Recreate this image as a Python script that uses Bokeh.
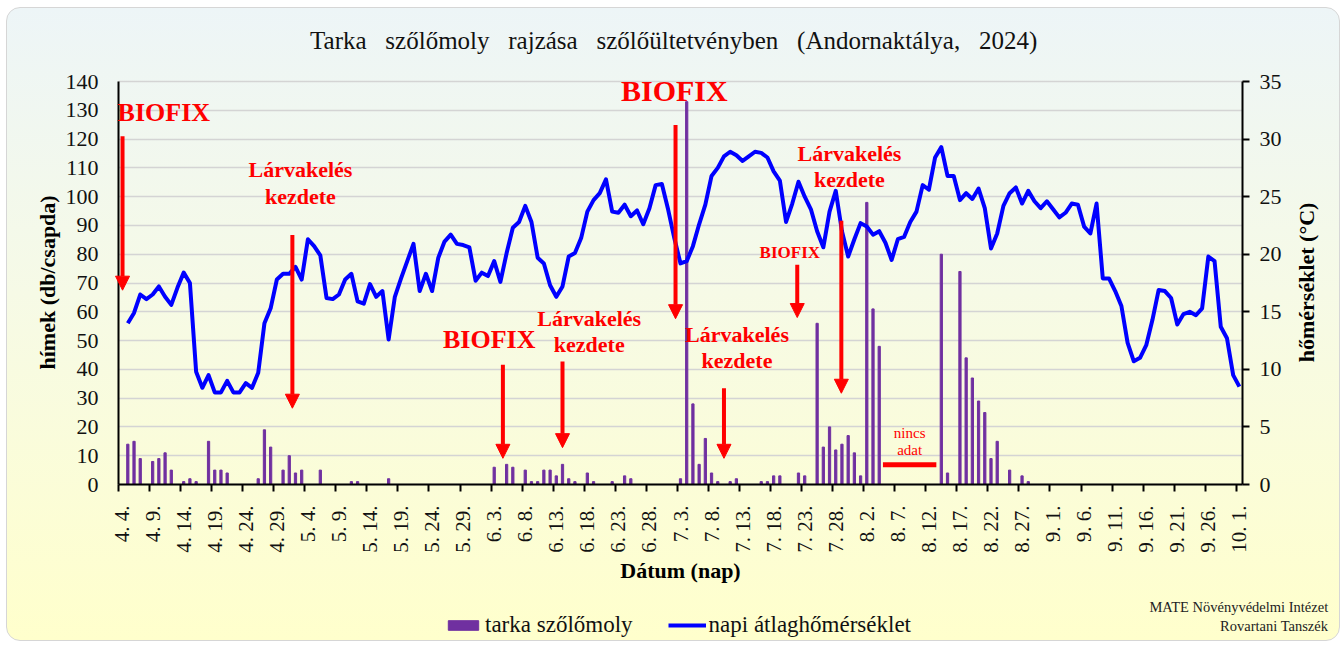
import math
from bokeh.plotting import figure
from bokeh.models import (Range1d, FixedTicker, LinearAxis, Arrow, NormalHead, Label,
                          Legend, LegendItem, BoxAnnotation)
from bokeh.embed import file_html
from bokeh.resources import INLINE

# ---------------- data ----------------
# day index 0 = 4 April 2024 ... 180 = 1 October 2024
x_tick_labels = ["4. 4.", "4. 9.", "4. 14.", "4. 19.", "4. 24.", "4. 29.", "5. 4.", "5. 9.",
                 "5. 14.", "5. 19.", "5. 24.", "5. 29.", "6. 3.", "6. 8.", "6. 13.", "6. 18.",
                 "6. 23.", "6. 28.", "7. 3.", "7. 8.", "7. 13.", "7. 18.", "7. 23.", "7. 28.",
                 "8. 2.", "8. 7.", "8. 12.", "8. 17.", "8. 22.", "8. 27.", "9. 1.", "9. 6.",
                 "9. 11.", "9. 16.", "9. 21.", "9. 26.", "10. 1."]
x_tick_pos = list(range(0, 181, 5))
y_ticks = list(range(0, 141, 10))
t_ticks = list(range(0, 36, 5))

# moth catches (males / trap) by day index
moth_day = [1, 2, 3, 5, 6, 7, 8, 10, 11, 12, 14, 15, 16, 17, 22, 23, 24, 26, 27, 28, 29, 32,
            37, 38, 43, 60, 62, 63, 65, 66, 67, 68, 69, 70, 71, 72, 73, 75, 76, 79, 81, 82,
            90, 91, 92, 93, 94, 95, 96, 98, 99, 103, 104, 105, 106, 109, 110, 112, 113, 114,
            115, 116, 117, 118, 119, 120, 121, 122, 132, 133, 135, 136, 137, 138, 139, 140,
            141, 143, 145, 146]
moth_count = [14, 15, 9, 8, 9, 11, 5, 1, 2, 1, 15, 5, 5, 4, 2, 19, 13, 5, 10, 4, 5, 5,
              1, 1, 2, 6, 7, 6, 5, 1, 1, 5, 5, 3, 7, 2, 1, 4, 1, 1, 3, 2,
              2, 133, 28, 7, 16, 4, 1, 1, 2, 1, 1, 3, 3, 4, 3, 56, 13, 20,
              12, 14, 17, 11, 3, 98, 61, 48, 80, 4, 74, 44, 37, 29, 25, 9,
              15, 5, 3, 1]

# daily mean temperature (°C), day index 1 .. 180
temp_first_day = 1
temp = [14.0, 14.9, 16.5, 16.1, 16.5, 17.2, 16.3, 15.6, 17.1, 18.4,
        17.5, 9.8, 8.4, 9.5, 8.0, 8.0, 9.0, 8.0, 8.0, 8.8,
        8.4, 9.7, 14.0, 15.3, 17.8, 18.3, 18.3, 18.9, 17.8, 21.3,
        20.7, 19.9, 16.2, 16.1, 16.5, 17.8, 18.3, 15.9, 15.7, 17.4,
        16.3, 16.8, 12.6, 16.3, 17.9, 19.4, 20.9, 16.8, 18.3, 16.8,
        19.7, 21.1, 21.7, 20.9, 20.8, 20.6, 17.7, 18.4, 18.1, 19.4,
        17.6, 20.1, 22.3, 22.8, 24.2, 22.8, 19.7, 19.2, 17.3, 16.3,
        17.2, 19.8, 20.1, 21.4, 23.7, 24.7, 25.3, 26.5, 23.7, 23.6,
        24.3, 23.3, 23.8, 22.6, 24.0, 26.0, 26.1, 23.9, 21.4, 19.2,
        19.4, 20.7, 22.6, 24.3, 26.8, 27.5, 28.5, 28.9, 28.6, 28.1,
        28.5, 28.9, 28.8, 28.4, 27.2, 26.4, 22.8, 24.4, 26.3, 25.0,
        23.9, 22.0, 20.6, 23.7, 25.5, 22.0, 19.8, 21.3, 22.7, 22.4,
        21.7, 22.0, 21.0, 19.5, 21.3, 21.5, 22.8, 23.7, 26.0, 25.6,
        28.4, 29.3, 26.8, 26.8, 24.7, 25.3, 24.8, 25.7, 24.0, 20.5,
        21.8, 24.2, 25.3, 25.8, 24.4, 25.5, 24.6, 24.0, 24.6, 23.9,
        23.2, 23.6, 24.4, 24.3, 22.4, 21.8, 24.4, 17.9, 17.9, 16.8,
        15.5, 12.3, 10.7, 11.0, 12.1, 14.3, 16.9, 16.8, 16.2, 13.9,
        14.8, 15.0, 14.7, 15.3, 19.8, 19.4, 13.7, 12.7, 9.5, 8.5]
temp_day = [temp_first_day + k for k in range(len(temp))]

FONT = "Liberation Serif"
RED = "#FF0000"
NB = "\u00a0"

# ---------------- layout ----------------
# The whole canvas is the frame so that texts outside the plot area are not clipped;
# the axes are pinned at the plot-area edges with fixed_location / bounds.
W, H = 1334, 634
PL, PT, PR, PB = 111, 73, 1235, 476          # plot area inside the canvas (px)
N_DAYS = len(x_tick_pos) * 5 - 4              # 181 categories
X0, X1 = -0.5, N_DAYS - 0.5
kx = (PR - PL) / N_DAYS
ky = (PB - PT) / 140.0
kt = (PB - PT) / 35.0

p = figure(width=W, height=H, output_backend="svg", toolbar_location=None,
           x_range=Range1d(X0 - PL / kx, X1 + (W - PR) / kx),
           y_range=Range1d(-(H - PB) / ky, 140 + PT / ky),
           min_border=0, min_border_left=0, min_border_right=0,
           min_border_top=0, min_border_bottom=0,
           background_fill_color=None, border_fill_color=None, outline_line_color=None)
p.styles = {"background": "linear-gradient(180deg, #EDF5F7 0%, #F6FAE6 45%, #FFFFCC 100%)",
            "border": "1.5px solid #D6D6D6", "border-radius": "14px", "box-sizing": "border-box",
            "margin-left": "6px", "margin-top": "7px"}
p.title = None
p.extra_y_ranges = {"temp": Range1d(-(H - PB) / kt, 35 + PT / kt)}

# grid (horizontal lines only inside the plot area)
p.xgrid.grid_line_color = None
p.ygrid.ticker = FixedTicker(ticks=y_ticks)
p.ygrid.grid_line_color = "#D4D4D4"
p.ygrid.grid_line_width = 1.6
try:
    p.ygrid.cross_bounds = (X0, X1)
except Exception:
    p.ygrid.visible = False
    p.segment(x0=[X0] * len(y_ticks), x1=[X1] * len(y_ticks), y0=y_ticks, y1=y_ticks,
              line_color="#D4D4D4", line_width=1.6, level="underlay")

# left axis
ya = p.yaxis[0]
ya.fixed_location = X0
ya.bounds = (0, 140)
ya.ticker = FixedTicker(ticks=y_ticks)
ya.major_label_text_font = FONT
ya.major_label_text_font_size = "22px"
ya.major_label_text_color = "#111111"
ya.major_tick_out = 0
ya.major_tick_in = 0
ya.minor_tick_line_color = None
ya.major_label_standoff = 20
ya.axis_line_width = 2
ya.axis_line_color = "#000000"

# right axis
ra = LinearAxis(y_range_name="temp", ticker=FixedTicker(ticks=t_ticks))
ra.fixed_location = X1
ra.bounds = (0, 35)
ra.major_label_text_font = FONT
ra.major_label_text_font_size = "22px"
ra.major_label_text_color = "#111111"
ra.major_tick_out = 7
ra.major_tick_in = 0
ra.major_tick_line_width = 2
ra.minor_tick_line_color = None
ra.major_label_standoff = 10
ra.axis_line_width = 2
ra.axis_line_color = "#000000"
p.add_layout(ra, "right")

# bottom axis: labels at category centres ...
xa = p.xaxis[0]
xa.fixed_location = 0
xa.bounds = (X0, X1)
xa.ticker = FixedTicker(ticks=x_tick_pos)
xa.major_label_overrides = {t: lab for t, lab in zip(x_tick_pos, x_tick_labels)}
xa.major_label_orientation = math.pi / 2
xa.major_label_text_font = FONT
xa.major_label_text_font_size = "21px"
xa.major_label_text_color = "#111111"
xa.major_label_standoff = 15
xa.major_tick_line_color = None
xa.minor_tick_line_color = None
xa.axis_line_width = 2
xa.axis_line_color = "#000000"

# ... and tick marks on the category boundaries
xb = LinearAxis(ticker=FixedTicker(ticks=[t - 0.5 for t in x_tick_pos]))
xb.fixed_location = 0
xb.bounds = (X0, X1)
xb.major_label_text_color = None
xb.major_tick_out = 7
xb.major_tick_in = 0
xb.major_tick_line_width = 2
xb.major_tick_line_color = "#000000"
xb.minor_tick_line_color = None
xb.axis_line_color = None
p.add_layout(xb, "below")

# axis titles and chart title (data coordinates of the outer area)
def txt(t, x, y, size, style="normal", color="#111111", angle=0.0, align="center"):
    p.add_layout(Label(x=x, y=y, text=t, text_font=FONT, text_font_size=size,
                       text_font_style=style, text_color=color, angle=angle,
                       text_align=align, text_baseline="middle"))

gap = " " + NB + NB
txt(gap.join(["Tarka", "szőlőmoly", "rajzása", "szőlőültetvényben", "(Andornaktálya,", "2024)"]),
    88.9, 154.2, "25px")
txt("hímek (db/csapda)", -11.9, 70.2, "22px", "bold", "#000000", math.pi / 2)
txt("hőmérséklet (°C)", 190.8, 70.2, "22px", "bold", "#000000", math.pi / 2)
txt("Dátum (nap)", 90.0, -29.8, "22px", "bold", "#000000")
txt("MATE Növényvédelmi Intézet", 194.3, -42.7, "14.5px", color="#222222", align="right")
txt("Rovartani Tanszék", 194.3, -49.0, "14.5px", color="#222222", align="right")

# series
bars = p.vbar(x=moth_day, top=moth_count, width=0.36, color="#7030A0")
line = p.line(x=temp_day, y=temp, y_range_name="temp", line_color="#0000FF",
              line_width=4, line_join="round")

# annotations: arrows (x = day index, y in left-axis units)
arrows = [
    (0.15, 121, 0.15, 67.5),
    (27.5, 86.7, 27.5, 26.5),
    (61.4, 41.6, 61.4, 9.1),
    (71.0, 42.7, 71.0, 12.8),
    (89.2, 124.9, 89.2, 57.6),
    (97.0, 33.4, 97.0, 9.1),
    (108.8, 76.3, 108.8, 58.0),
    (115.9, 91.6, 115.9, 31.7),
]
for xs, ys, xe, ye in arrows:
    p.add_layout(Arrow(end=NormalHead(size=14, fill_color=RED, line_color=RED, line_width=1),
                       x_start=xs, y_start=ys, x_end=xe, y_end=ye,
                       line_color=RED, line_width=4))

texts = [
    ("BIOFIX", 6.8, 129.3, "26px"),
    ("Lárvakelés", 28.8, 109.3, "22px"),
    ("kezdete", 28.8, 100.0, "22px"),
    ("BIOFIX", 59.2, 50.3, "26px"),
    ("Lárvakelés", 75.3, 57.8, "22px"),
    ("kezdete", 75.3, 48.5, "22px"),
    ("BIOFIX", 89.0, 136.7, "30px"),
    ("Lárvakelés", 99.1, 52.2, "22px"),
    ("kezdete", 99.1, 43.0, "22px"),
    ("BIOFIX", 107.6, 80.6, "17px"),
    ("Lárvakelés", 117.2, 115.1, "22px"),
    ("kezdete", 117.2, 105.8, "22px"),
]
for t, x, y, fs in texts:
    txt(t, x, y, fs, "bold", RED)

# "nincs adat" (no data) marker
p.add_layout(BoxAnnotation(left=122.6, right=131.2, bottom=6.0, top=7.7,
                           fill_color=RED, fill_alpha=1.0, line_color=None))
txt("nincs", 126.9, 17.8, "15px", color=RED)
txt("adat", 126.9, 12.0, "15px", color=RED)

# legend (screen offset from the bottom-left corner of the canvas)
legend = Legend(items=[LegendItem(label="tarka szőlőmoly", renderers=[bars]),
                       LegendItem(label="napi átlaghőmérséklet", renderers=[line])],
                orientation="horizontal", location=(437, 4),
                label_text_font=FONT, label_text_font_size="23px", label_text_color="#111111",
                glyph_width=38, glyph_height=12, label_standoff=3, spacing=35,
                padding=0, margin=0, border_line_color=None, background_fill_alpha=0)
p.add_layout(legend, "center")

open("out.html", "w").write(file_html(p, INLINE))
